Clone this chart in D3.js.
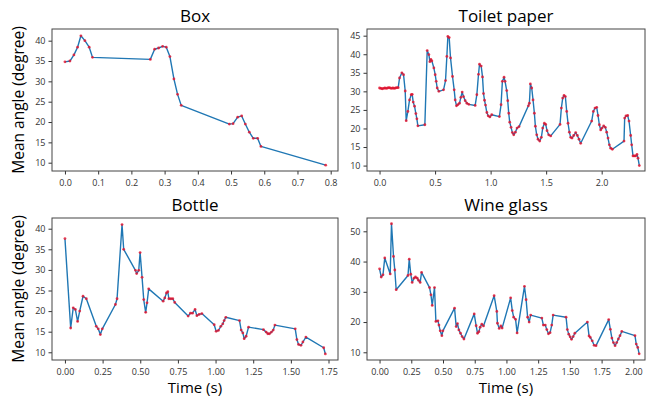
<!DOCTYPE html>
<html>
<head>
<meta charset="utf-8">
<script src="https://cdn.jsdelivr.net/npm/d3@7"></script>
<style>
  body { margin: 0; background: #fff; }
  svg { display: block; }
  .tick text { font-family: "Open Sans", sans-serif; font-size: 9px; fill: #333; }
  .tick line { stroke: #333; }
  .domain { display: none; }
</style>
</head>
<body>
<svg id="chart" width="646" height="400"></svg>
<script>
// Box
let boxTime = [0.000, 0.015, 0.027, 0.038, 0.048, 0.060, 0.073, 0.083, 0.257, 0.270, 0.282, 0.294, 0.305, 0.316, 0.328, 0.339, 0.350, 0.495, 0.506, 0.520, 0.532, 0.543, 0.555, 0.567, 0.580, 0.590, 0.785];
let boxAngle = [34.8, 35.0, 36.5, 38.4, 41.2, 40.0, 38.4, 35.9, 35.4, 37.9, 38.2, 38.6, 38.4, 36.1, 30.6, 26.8, 24.1, 19.5, 19.6, 21.2, 21.5, 19.5, 17.5, 16.0, 16.0, 14.0, 9.4];

// Toilet paper
let paperTime = [0.000, 0.012, 0.024, 0.036, 0.048, 0.060, 0.072, 0.084, 0.096, 0.108, 0.120, 0.132, 0.144, 0.156, 0.168,
  0.180, 0.201, 0.216, 0.231, 0.240, 0.255, 0.270, 0.285, 0.294, 0.303, 0.315, 0.327, 0.336, 0.345, 0.408,
  0.429, 0.444, 0.453, 0.462, 0.471, 0.489, 0.501, 0.510, 0.519, 0.534, 0.576, 0.594, 0.606, 0.615, 0.627,
  0.639, 0.657, 0.672, 0.681, 0.693, 0.705, 0.720, 0.732, 0.744, 0.756, 0.771, 0.786, 0.804, 0.861, 0.876,
  0.891, 0.900, 0.915, 0.927, 0.936, 0.945, 0.954, 0.966, 0.978, 0.993, 1.010, 1.079, 1.094, 1.106, 1.121,
  1.130, 1.145, 1.154, 1.163, 1.172, 1.184, 1.196, 1.208, 1.223, 1.238, 1.256, 1.340, 1.349, 1.358, 1.370,
  1.382, 1.394, 1.403, 1.415, 1.427, 1.442, 1.457, 1.469, 1.484, 1.496, 1.508, 1.523, 1.541, 1.625, 1.637,
  1.649, 1.661, 1.673, 1.685, 1.697, 1.709, 1.721, 1.733, 1.748, 1.766, 1.781, 1.796, 1.811, 1.910, 1.925,
  1.940, 1.955, 1.967, 1.979, 1.991, 2.003, 2.018, 2.033, 2.045, 2.057, 2.069, 2.081, 2.096, 2.201, 2.207,
  2.219, 2.234, 2.246, 2.261, 2.270, 2.282, 2.294, 2.306, 2.318, 2.327, 2.339];
let paperAngle = [30.9, 30.8, 30.7, 30.8, 30.9, 30.8, 30.9, 31.0, 30.9, 30.8, 30.9, 30.8, 30.9, 31.0, 31.0,
  33.6, 35.0, 34.5, 30.1, 22.1, 24.6, 27.7, 29.1, 29.2, 27.1, 26.0, 24.0, 22.6, 20.7, 21.0,
  41.0, 39.9, 38.0, 38.6, 38.2, 36.3, 34.5, 32.7, 30.9, 30.0, 30.4, 32.9, 39.4, 44.8, 44.5,
  39.0, 34.0, 30.4, 27.7, 26.1, 26.4, 26.8, 28.4, 29.8, 28.6, 27.5, 26.8, 26.5, 26.2, 29.1,
  34.6, 37.3, 36.8, 33.9, 29.4, 27.6, 26.3, 24.3, 23.4, 23.1, 23.7, 23.2, 26.4, 32.7, 33.8,
  32.7, 30.2, 27.5, 24.1, 21.7, 20.3, 18.9, 18.3, 19.0, 20.1, 20.5, 26.1, 26.8, 32.0, 30.9,
  27.7, 24.1, 20.6, 18.3, 17.1, 16.6, 17.6, 20.1, 21.4, 21.1, 19.4, 18.3, 18.0, 21.1, 25.5,
  28.2, 28.9, 28.6, 24.6, 21.4, 19.0, 17.6, 17.4, 18.1, 18.9, 18.1, 17.1, 16.0, 22.0, 24.6,
  25.5, 25.7, 23.5, 21.0, 19.6, 20.1, 20.7, 20.3, 19.0, 17.4, 15.6, 14.7, 14.4, 16.6, 22.8,
  23.4, 23.5, 22.0, 18.1, 15.6, 12.6, 12.6, 12.6, 13.0, 12.0, 10.0];

// Bottle
let bottleTime = [0.000, 0.038, 0.055, 0.069, 0.084, 0.098, 0.120, 0.142, 0.208, 0.221, 0.235, 0.248, 0.335, 0.346, 0.379, 0.390,
  0.468, 0.476, 0.490, 0.499, 0.512, 0.523, 0.536, 0.545, 0.556, 0.652, 0.663, 0.674, 0.683, 0.690, 0.703, 0.716, 0.729,
  0.818, 0.833, 0.847, 0.864, 0.876, 0.891, 0.909, 0.991, 1.004, 1.019, 1.035, 1.048, 1.057, 1.068, 1.159, 1.170, 1.181,
  1.190, 1.203, 1.219, 1.318, 1.336, 1.347, 1.358, 1.371, 1.383, 1.394, 1.529, 1.540, 1.551, 1.567, 1.580, 1.600, 1.718, 1.729];
let bottleAngle = [37.6, 15.9, 20.8, 20.4, 17.5, 20.0, 23.6, 23.0, 16.3, 15.7, 14.3, 15.7, 21.6, 23.0, 41.0, 35.0,
  29.9, 29.1, 29.9, 34.2, 28.2, 22.8, 19.7, 22.0, 25.4, 22.4, 23.2, 24.4, 24.7, 23.0, 23.0, 23.0, 22.1,
  18.8, 19.5, 19.5, 20.4, 18.9, 19.2, 19.4, 16.7, 15.1, 15.3, 16.3, 16.9, 17.7, 18.5, 17.7, 15.4, 14.7,
  13.3, 13.9, 16.1, 15.5, 14.9, 14.5, 14.5, 14.9, 15.4, 16.6, 15.7, 13.1, 11.9, 11.7, 12.5, 13.7, 11.1, 9.6];

// Wine glass
let glassTime = [0.000, 0.013, 0.027, 0.041, 0.084, 0.094, 0.110, 0.120, 0.131, 0.224, 0.234, 0.246, 0.257, 0.271, 0.283,
  0.297, 0.307, 0.320, 0.331, 0.394, 0.405, 0.415, 0.433, 0.444, 0.460, 0.468, 0.478, 0.491, 0.499, 0.591, 0.604,
  0.614, 0.625, 0.638, 0.651, 0.665, 0.746, 0.761, 0.772, 0.783, 0.793, 0.806, 0.819, 0.903, 0.924, 0.929, 0.943,
  0.956, 0.966, 1.033, 1.046, 1.057, 1.072, 1.084, 1.142, 1.155, 1.167, 1.179, 1.191, 1.279, 1.291, 1.306, 1.318,
  1.331, 1.344, 1.357, 1.368, 1.470, 1.480, 1.491, 1.502, 1.513, 1.526, 1.539, 1.638, 1.651, 1.661, 1.676, 1.691,
  1.706, 1.806, 1.819, 1.831, 1.843, 1.856, 1.869, 1.882, 1.895, 1.909, 2.013, 2.023, 2.035, 2.046];
let glassAngle = [37.6, 34.9, 35.6, 41.2, 35.9, 52.5, 41.7, 37.2, 30.7, 35.4, 40.8, 35.8, 33.1, 34.5, 34.9,
  34.5, 33.8, 33.1, 36.4, 31.4, 29.0, 25.5, 31.4, 20.2, 20.4, 19.0, 17.1, 15.5, 17.1, 24.6, 18.5,
  19.5, 17.4, 16.3, 15.2, 14.4, 22.7, 18.8, 16.3, 16.8, 18.3, 19.3, 18.7, 28.7, 23.5, 19.6, 17.9,
  18.7, 18.0, 28.0, 23.8, 21.6, 20.9, 16.4, 31.8, 27.4, 21.6, 20.0, 22.3, 21.3, 19.0, 19.0, 17.5,
  16.1, 16.5, 19.0, 22.3, 21.6, 17.5, 16.0, 15.1, 14.3, 15.2, 16.3, 20.0, 15.4, 14.9, 13.8, 12.3,
  12.2, 20.8, 17.6, 14.7, 13.2, 12.2, 13.2, 14.4, 15.5, 16.9, 15.5, 12.7, 11.6, 9.5];

// tick labels
let boxXTicks = [0, 0.1, 0.2, 0.3, 0.4, 0.5, 0.6, 0.7, 0.8];
let boxYTicks = [10, 15, 20, 25, 30, 35, 40];
let paperXTicks = [0, 0.5, 1.0, 1.5, 2.0];
let paperYTicks = [10, 15, 20, 25, 30, 35, 40, 45];
let bottleXTicks = [0, 0.25, 0.5, 0.75, 1.0, 1.25, 1.5, 1.75];
let bottleYTicks = [10, 15, 20, 25, 30, 35, 40];
let glassXTicks = [0, 0.25, 0.5, 0.75, 1.0, 1.25, 1.5, 1.75, 2.0];
let glassYTicks = [10, 20, 30, 40, 50];

let svg = d3.select("#chart");

let panels = [
  {title: "Box", t: boxTime, a: boxAngle, left: 52, right: 338, top: 29, bottom: 171,
   xd: [-0.039, 0.822], yd: [7.96, 42.87], xt: boxXTicks, yt: boxYTicks, fmt: ".1f", ylab: true, xlab: false},
  {title: "Toilet paper", t: paperTime, a: paperAngle, left: 367, right: 645, top: 29, bottom: 171,
   xd: [-0.113, 2.39], yd: [8.54, 46.8], xt: paperXTicks, yt: paperYTicks, fmt: ".1f", ylab: false, xlab: false},
  {title: "Bottle", t: bottleTime, a: bottleAngle, left: 52, right: 338, top: 218, bottom: 360,
   xd: [-0.086, 1.813], yd: [8.13, 42.6], xt: bottleXTicks, yt: bottleYTicks, fmt: ".2f", ylab: true, xlab: true},
  {title: "Wine glass", t: glassTime, a: glassAngle, left: 367, right: 645, top: 218, bottom: 360,
   xd: [-0.099, 2.092], yd: [7.45, 54.4], xt: glassXTicks, yt: glassYTicks, fmt: ".2f", ylab: false, xlab: true}
];

panels.forEach(p => {
  let x = d3.scaleLinear().domain(p.xd).range([p.left, p.right]);
  let y = d3.scaleLinear().domain(p.yd).range([p.bottom, p.top]);
  let g = svg.append("g");

  g.append("g")
    .attr("transform", "translate(0," + p.bottom + ")")
    .call(d3.axisBottom(x).tickValues(p.xt).tickFormat(d3.format(p.fmt)).tickSize(3.5).tickPadding(5));
  g.append("g")
    .attr("transform", "translate(" + p.left + ",0)")
    .call(d3.axisLeft(y).tickValues(p.yt).tickFormat(d3.format("d")).tickSize(3.5).tickPadding(3));

  let pts = p.t.map((d, i) => [d, p.a[i]]);
  g.append("path")
    .datum(pts)
    .attr("fill", "none")
    .attr("stroke", "#1f77b4")
    .attr("stroke-width", 1.4)
    .attr("stroke-linejoin", "round")
    .attr("d", d3.line().x(d => x(d[0])).y(d => y(d[1])));

  g.selectAll("circle")
    .data(pts)
    .enter()
    .append("circle")
    .attr("cx", d => x(d[0]))
    .attr("cy", d => y(d[1]))
    .attr("r", 1.4)
    .attr("fill", "#e8102a")
    .attr("fill-opacity", 0.8);

  g.append("rect")
    .attr("x", p.left).attr("y", p.top)
    .attr("width", p.right - p.left).attr("height", p.bottom - p.top)
    .attr("fill", "none").attr("stroke", "#444").attr("stroke-width", 1);

  g.append("text")
    .attr("x", (p.left + p.right) / 2).attr("y", p.top - 7)
    .attr("text-anchor", "middle")
    .style("font-family", "'Open Sans', sans-serif").style("font-size", "17px").style("fill", "#000")
    .text(p.title);

  if (p.ylab) {
    g.append("text")
      .attr("transform", "translate(19," + (p.top + p.bottom) / 2 + ") rotate(-90)")
      .attr("text-anchor", "middle")
      .attr("dy", "0.35em")
      .style("font-family", "'Open Sans', sans-serif").style("font-size", "15.5px").style("fill", "#000")
      .text("Mean angle (degree)");
  }
  if (p.xlab) {
    g.append("text")
      .attr("x", (p.left + p.right) / 2).attr("y", 393)
      .attr("text-anchor", "middle")
      .style("font-family", "'Open Sans', sans-serif").style("font-size", "15px").style("fill", "#000")
      .text("Time (s)");
  }
});
</script>
</body>
</html>
